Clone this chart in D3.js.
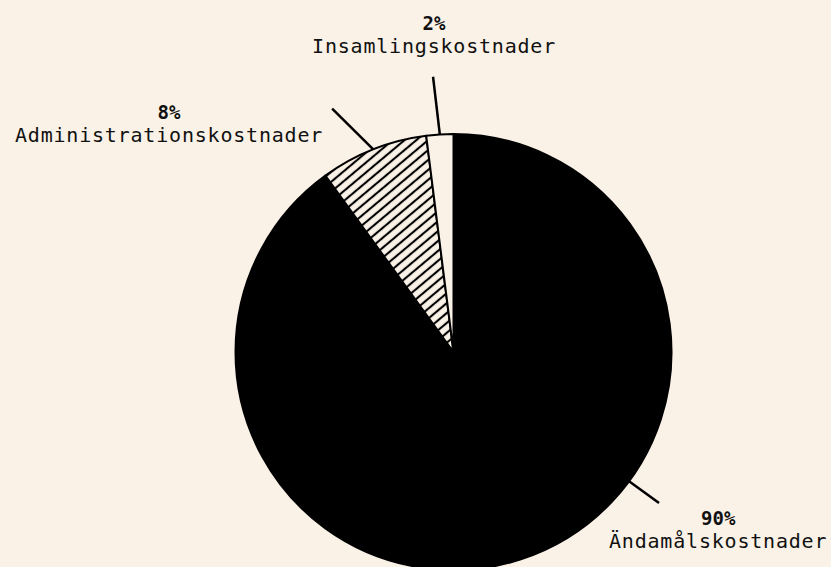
<!DOCTYPE html>
<html>
<head>
<meta charset="utf-8">
<script src="https://cdn.jsdelivr.net/npm/d3@7"></script>
<style>
  body { margin: 0; background: #faf1e7; }
  text { font-family: "DejaVu Sans Mono", monospace; fill: #111; }
</style>
</head>
<body>
<div id="chart"></div>
<script>
// data
var categories = ["Ändamålskostnader", "Administrationskostnader", "Insamlingskostnader"];
var values = [90, 8, 2];
var percentLabels = ["90%", "8%", "2%"];

var svgWidth = 831;
var svgHeight = 567;
var cx = 453.5, cy = 352;
var radius = 218;

// label layout per slice: where the leader leaves the slice (fraction of the slice),
// where it ends (angle in degrees, radius) and how the text sits around that end
var leaders = [
  { at: 0.39, endAngle: 126.3, endR: 255, dx: -50, dy: 22, anchor: "start" },
  { at: 0.5, endAngle: 333.5, endR: 272, dx: -9, dy: 10, anchor: "end" },
  { at: 0.5, endAngle: 355.75, endR: 276, dx: 1, dy: -47, anchor: "middle" }
];

var svg = d3.select("#chart").append("svg")
  .attr("width", svgWidth)
  .attr("height", svgHeight);

svg.append("rect")
  .attr("width", svgWidth)
  .attr("height", svgHeight)
  .attr("fill", "#faf1e7");

var defs = svg.append("defs");
var hatch = defs.append("pattern")
  .attr("id", "hatch")
  .attr("patternUnits", "userSpaceOnUse")
  .attr("width", 10)
  .attr("height", 7.6)
  .attr("patternTransform", "rotate(-40)");
hatch.append("rect")
  .attr("width", 10).attr("height", 7.6)
  .attr("fill", "#faf1e7");
hatch.append("line")
  .attr("x1", 0).attr("x2", 10)
  .attr("y1", 3.8).attr("y2", 3.8)
  .attr("stroke", "#000")
  .attr("stroke-width", 2.1);

var fills = ["#000", "url(#hatch)", "#faf1e7"];

var pie = d3.pie().sort(null).value(d => d);
var arcs = pie(values);

var arc = d3.arc().innerRadius(0).outerRadius(radius);

var g = svg.append("g")
  .attr("transform", `translate(${cx}, ${cy})`);

g.selectAll("path.slice")
  .data(arcs)
  .enter()
  .append("path")
  .attr("class", "slice")
  .attr("d", arc)
  .attr("fill", (d, i) => fills[i])
  .attr("stroke", "#000")
  .attr("stroke-width", 2)
  .attr("stroke-linejoin", "round");

function polar(a, r) {
  return [r * Math.sin(a), -r * Math.cos(a)];
}

arcs.forEach(function(d, i) {
  var lay = leaders[i];
  var a = d.startAngle + (d.endAngle - d.startAngle) * lay.at;
  var p0 = polar(a, radius);
  var p1 = polar(lay.endAngle * Math.PI / 180, lay.endR);

  g.append("line")
    .attr("x1", p0[0]).attr("y1", p0[1])
    .attr("x2", p1[0]).attr("y2", p1[1])
    .attr("stroke", "#000")
    .attr("stroke-width", 2.5);

  var tx = p1[0] + lay.dx;
  var ty = p1[1] + lay.dy;

  var name = g.append("text")
    .attr("y", ty + 23)
    .style("font-size", "20px")
    .style("letter-spacing", "0.8px")
    .text(categories[i]);
  var w = name.node().getComputedTextLength();
  var left = lay.anchor === "start" ? tx : lay.anchor === "end" ? tx - w : tx - w / 2;
  name.attr("x", left);
  var mid = left + w / 2;

  g.append("text")
    .attr("x", mid)
    .attr("y", ty)
    .attr("text-anchor", "middle")
    .style("font-size", "19px")
    .style("font-weight", "bold")
    .text(percentLabels[i]);
});
</script>
</body>
</html>
